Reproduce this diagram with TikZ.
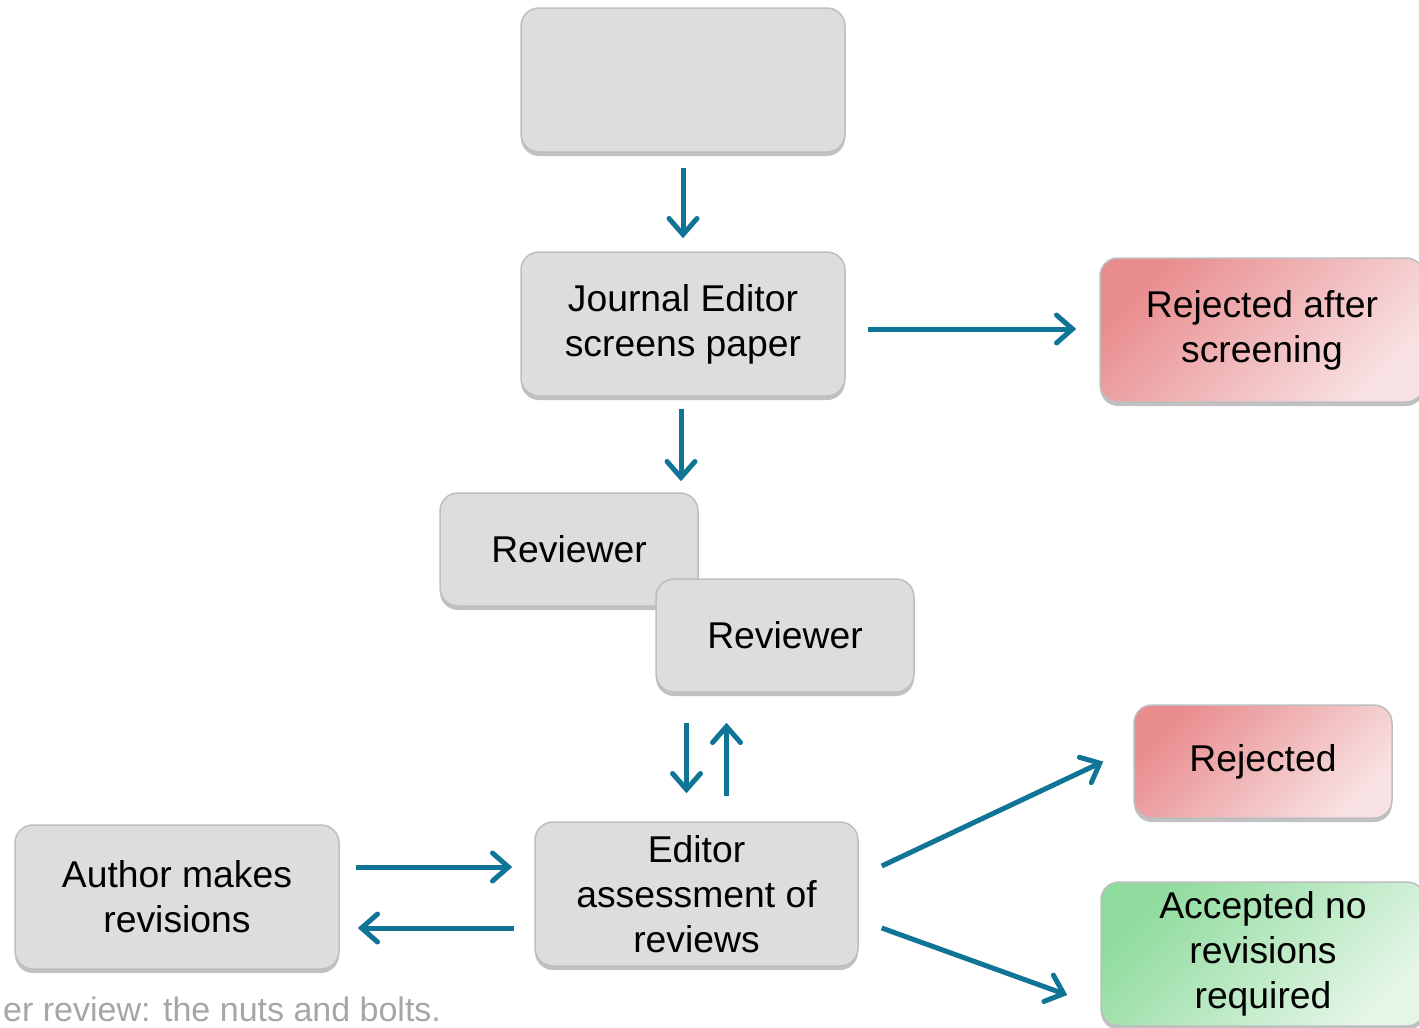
\documentclass[tikz,border=0pt]{standalone}
\usepackage{fontspec}
\setmainfont{Liberation Sans}
\usetikzlibrary{arrows.meta,shadows}

\definecolor{flowblue}{RGB}{16,116,151}
\definecolor{boxgray}{RGB}{220,221,223}
\definecolor{edgegray}{RGB}{190,190,192}
\definecolor{rejdark}{RGB}{233,140,142}
\definecolor{rejlight}{RGB}{248,226,227}
\definecolor{accdark}{RGB}{143,219,157}
\definecolor{acclight}{RGB}{228,246,231}
\definecolor{footgray}{RGB}{166,166,166}

\begin{document}
\begin{tikzpicture}[x=1pt,y=-1pt,
    stage/.style={rectangle, rounded corners=18pt, draw=edgegray, line width=1.5pt,
        fill=boxgray, minimum width=324pt, minimum height=144pt, inner sep=0pt,
        align=center, font=\fontsize{37.3}{44.8}\selectfont,
        drop shadow={shadow xshift=0pt, shadow yshift=-4pt, opacity=0.35, fill=black!70}},
    small/.style={stage, minimum width=258pt, minimum height=113pt},
    reject/.style={top color=rejdark, bottom color=rejlight, shading angle=45},
    accept/.style={top color=accdark, bottom color=acclight, shading angle=45},
    flow/.style={line width=5pt, flowblue,
        -{Straight Barb[length=16pt,width=28pt,line width=5pt,line cap=round]}}]
    \useasboundingbox (0,0) rectangle (1419,1028);
    \clip (0,0) rectangle (1419,1028);

    \node[stage] (submit) at (683,80) {};
    \node[stage] (screen) at (683,324) {Journal Editor\\screens paper};
    \node[stage,reject] (rejscreen) at (1262,330) {Rejected after\\screening};
    \node[small] (review1) at (569,549.5) {Reviewer};
    \node[small] (review2) at (785,635.5) {Reviewer};
    \node[small,reject] (rejected) at (1263,761.5) {Rejected};
    \node[stage,minimum width=323pt] (assess) at (696.5,894) {Editor\\assessment of\\reviews};
    \node[stage] (author) at (177,897) {Author makes\\revisions};
    \node[stage,accept] (accepted) at (1263,954) {Accepted no\\revisions\\required};

    \node[anchor=base west, inner sep=0pt, text=footgray,
        font=\fontsize{34}{40}\selectfont] (footer) at (3,1021)
        {er review: the nuts and bolts.};

    \draw[flow, shorten <=15pt, shorten >=13pt] (submit.south) -- (screen.north);
    \draw[flow, shorten <=22pt, shorten >=23pt]
        ([yshift=-5pt]screen.east) -- ([yshift=-5pt]screen.east -| rejscreen.west);
    \draw[flow, shorten <=12pt, shorten >=11pt]
        ([xshift=-2pt]screen.south) -- ([xshift=-2pt]screen.south |- review1.north);
    \draw[flow, shorten <=30pt, shorten >=28pt]
        ([xshift=-10pt]assess.north |- review2.south) -- ([xshift=-10pt]assess.north);
    \draw[flow, shorten <=25pt, shorten >=30pt]
        ([xshift=30pt]assess.north) -- ([xshift=30pt]assess.north |- review2.south);
    \draw[flow, shorten <=16pt, shorten >=22pt]
        ([yshift=30pt]author.east) -- ([yshift=30pt]author.east -| assess.west);
    \draw[flow, shorten <=20pt, shorten >=18pt]
        ([yshift=-34pt]assess.west) -- ([yshift=-34pt]assess.west -| author.east);
    \draw[flow] ([xshift=23pt,yshift=28pt]assess.east) -- ([xshift=-30pt]rejected.west);
    \draw[flow] ([xshift=23pt,yshift=-34pt]assess.east) -- ([xshift=-33pt,yshift=-41pt]accepted.west);
\end{tikzpicture}
\end{document}
